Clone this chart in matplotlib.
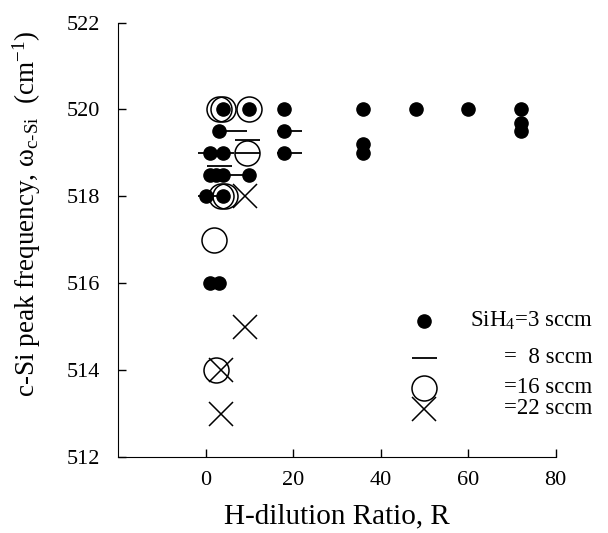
import numpy as np
import matplotlib
matplotlib.use("Agg")
import matplotlib.pyplot as plt

plt.rcParams['font.family'] = 'Liberation Serif'
plt.rcParams['mathtext.fontset'] = 'custom'
plt.rcParams['mathtext.rm'] = 'Liberation Serif'
plt.rcParams['mathtext.it'] = 'Liberation Serif:italic'

# SiH4 = 3 sccm (filled circles)
r_3 = [4, 10, 3, 1, 4, 1, 2.5, 4, 10, 0, 4, 1, 3,
       18, 18, 18, 36, 36, 36, 48, 60, 72, 72, 72]
w_3 = [520, 520, 519.5, 519, 519, 518.5, 518.5, 518.5, 518.5, 518, 518, 516, 516,
       520, 519.5, 519, 520, 519.2, 519, 520, 520, 520, 519.7, 519.5]

# SiH4 = 8 sccm (horizontal bars)
r_8 = [6.5, 1, 3.5, 9.5, 9.5, 3, 7.5, 1, 19, 19]
w_8 = [519.5, 519, 519, 519.3, 519, 518.7, 518.5, 518, 519.5, 519]

# SiH4 = 16 sccm (open circles)
r_16 = [3, 4, 10, 9.5, 3.5, 4.5, 2, 2.5]
w_16 = [520, 520, 520, 519, 518, 518, 517, 514]

# SiH4 = 22 sccm (crosses)
r_22 = [9, 9, 3.5, 3.5]
w_22 = [518, 515, 514, 513]

labels = [r"SiH$_4$=3 sccm", "=  8 sccm", "=16 sccm", "=22 sccm"]

fig = plt.figure(figsize=(6.08, 5.33), dpi=100)
ax = fig.add_axes([0.194, 0.1426, 0.72, 0.815])

ax.plot(r_8, w_8, ls='none', marker='_', ms=18, mew=1.3, color='black')
ax.plot(r_16, w_16, ls='none', marker='o', ms=18, mfc='none', mec='black', mew=1.1)
ax.plot(r_22, w_22, ls='none', marker='x', ms=17, mew=1.1, color='black')
ax.plot(r_3, w_3, ls='none', marker='o', ms=9.5, color='black')

# legend drawn by hand, markers on the left, text right-aligned
leg_y = [0.313, 0.228, 0.159, 0.111]
leg_m = [dict(marker='o', ms=9.5, color='black'),
         dict(marker='_', ms=18, mew=1.3, color='black'),
         dict(marker='o', ms=18, mfc='none', mec='black', mew=1.1),
         dict(marker='x', ms=17, mew=1.1, color='black')]
for yy, mk, lab in zip(leg_y, leg_m, labels):
    ax.plot([0.70], [yy], ls='none', transform=ax.transAxes, clip_on=False, **mk)
    ax.text(1.084, yy, lab, transform=ax.transAxes, ha='right', va='center',
            fontsize=16.5, clip_on=False)

ax.set_xlim(-20, 80)
ax.set_ylim(512, 522)
ax.set_xticks([0, 20, 40, 60, 80])
ax.set_yticks([512, 514, 516, 518, 520, 522])
ax.spines['top'].set_visible(False)
ax.spines['right'].set_visible(False)
ax.tick_params(direction='in', length=6, width=1, labelsize=16)
ax.tick_params(axis='y', pad=13)
ax.tick_params(axis='x', pad=10)

ax.set_xlabel("H-dilution Ratio, R", fontsize=21, labelpad=10)
ax.set_ylabel(r"c-Si peak frequency, ω$_{\mathrm{c\text{-}Si}}$  (cm$^{\mathrm{-1}}$)",
              fontsize=19.5)
ax.yaxis.set_label_coords(-0.172, 0.56)

fig.savefig("out.png", dpi=100)
